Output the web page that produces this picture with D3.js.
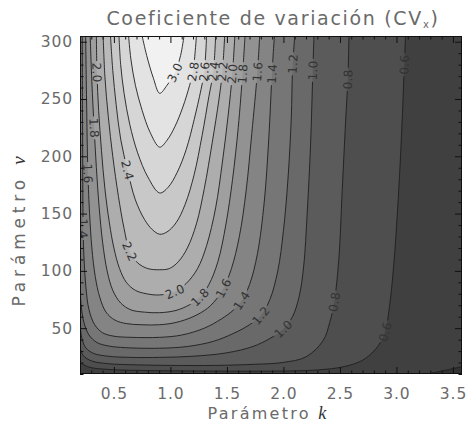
<!DOCTYPE html>
<html><head><meta charset="utf-8">
<script src="https://cdn.jsdelivr.net/npm/d3@7"></script>
<style>
html,body{margin:0;padding:0;background:#fff;}
svg{display:block;}
</style></head><body>
<svg id="chart" width="466" height="428"></svg>
<script>
// ---------------- data ----------------
const levels = [0.4,0.6,0.8,1.0,1.2,1.4,1.6,1.8,2.0,2.2,2.4,2.6,2.8,3.0];
// contour lines, points as [k, v]
const c04 = [[3.27,10],[3.36,11.8],[3.46,13.8],[3.58,16.5]];
const c06 = [[0.2,20],[0.28,16],[0.45,14],[0.8,13],[1.3,12.6],[1.9,12.5],[2.3,13.5],[2.54,16.5],[2.70,22],[2.80,30],[2.86,38],[2.90,47],[2.94,70],[2.98,110],[3.02,170],[3.05,230],[3.07,280],[3.08,305]];
const c08 = [[0.2,33],[0.23,26],[0.30,21.5],[0.45,19],[0.7,18],[1.0,17.5],[1.4,17.5],[1.75,18.5],[1.99,20],[2.20,25],[2.35,39],[2.41,55],[2.45,73],[2.49,110],[2.52,170],[2.55,230],[2.57,267],[2.58,305]];
const c10 = [[0.2,55],[0.215,42],[0.25,33],[0.32,28],[0.45,25.5],[0.65,24.5],[0.905,24.5],[1.2,25.5],[1.5,28.5],[1.73,34],[1.88,41],[1.997,49],[2.08,60],[2.14,78],[2.18,105],[2.21,150],[2.24,210],[2.26,274],[2.27,305]];
const c12 = [[0.2,88],[0.21,70],[0.235,55],[0.28,44],[0.35,37.5],[0.45,34.5],[0.60,33],[0.905,32.5],[1.15,34],[1.38,38.5],[1.56,45.5],[1.70,53],[1.80,61],[1.88,75],[1.95,100],[2.00,135],[2.04,180],[2.07,235],[2.08,274],[2.10,305]];
const c14 = [[0.22,305],[0.223,220],[0.228,137],[0.236,110],[0.252,86],[0.28,66],[0.33,53],[0.40,46],[0.50,43],[0.65,42],[0.905,42],[1.10,44],[1.30,50],[1.45,58],[1.56,66],[1.63,74],[1.70,88],[1.77,115],[1.83,160],[1.87,215],[1.90,274],[1.92,305]];
const c16 = [[0.25,305],[0.258,250],[0.27,185],[0.285,150],[0.305,120],[0.335,95],[0.375,77],[0.43,64],[0.51,57],[0.61,54],[0.74,53],[0.905,53],[1.05,55],[1.20,60],[1.33,67.5],[1.42,77],[1.47,85],[1.54,102],[1.61,130],[1.67,170],[1.72,220],[1.77,274],[1.79,305]];
const c18 = [[0.29,305],[0.305,265],[0.325,225],[0.345,190],[0.37,155],[0.40,125],[0.44,100],[0.49,83],[0.56,72],[0.65,66],[0.77,64],[0.905,63.5],[1.05,65.5],[1.17,70.5],[1.26,77],[1.34,88],[1.42,108],[1.49,140],[1.55,180],[1.60,225],[1.64,274],[1.66,305]];
const c20 = [[0.345,305],[0.35,273],[0.365,240],[0.39,205],[0.42,172],[0.46,142],[0.50,120],[0.55,102],[0.61,90],[0.69,83],[0.79,80],[0.905,79],[1.04,82],[1.14,89],[1.24,102],[1.32,122],[1.40,155],[1.46,195],[1.51,235],[1.55,274],[1.57,305]];
const c22 = [[0.405,305],[0.42,270],[0.45,235],[0.49,200],[0.54,165],[0.59,137],[0.64,117],[0.71,107],[0.80,102],[0.905,101],[0.99,102],[1.07,108],[1.15,120],[1.23,141],[1.30,172],[1.37,212],[1.43,250],[1.46,274],[1.48,305]];
const c24 = [[0.47,305],[0.49,275],[0.52,245],[0.56,215],[0.62,188],[0.69,162],[0.77,145],[0.84,136],[0.905,132],[0.97,134],[1.05,142],[1.13,158],[1.21,184],[1.28,218],[1.34,252],[1.38,274],[1.40,305]];
const c26 = [[0.545,305],[0.56,280],[0.59,255],[0.64,228],[0.71,203],[0.80,182],[0.905,168],[0.98,173],[1.06,186],[1.14,206],[1.21,232],[1.27,258],[1.30,274],[1.32,305]];
const c28 = [[0.63,305],[0.65,285],[0.69,262],[0.75,240],[0.82,221],[0.905,208],[0.97,214],[1.04,226],[1.11,243],[1.17,262],[1.20,274],[1.23,305]];
const c30 = [[0.75,305],[0.79,288],[0.85,268],[0.905,255],[0.97,262],[1.04,273],[1.09,288],[1.12,305]];

const kTicks = [0.5,1.0,1.5,2.0,2.5,3.0,3.5];
const vTicks = [50,100,150,200,250,300];
// approximate spots where each level is labelled: [level, k, v]
const labelSpots = [
  [2.0,0.35,273],[1.8,0.33,225],[1.6,0.27,185],[1.4,0.228,137],[2.4,0.62,188],[2.2,0.64,117],
  [3.0,1.04,273],[2.8,1.20,274],[2.6,1.30,274],[2.4,1.38,274],[2.2,1.46,274],[2.0,1.55,272],
  [1.8,1.64,272],[1.6,1.77,274],[1.4,1.90,272],[1.2,2.08,281],[1.0,2.26,275],[0.8,2.57,267],[0.6,3.07,280],
  [2.0,1.04,82],[1.8,1.26,77],[1.6,1.47,85],[1.4,1.63,74],[1.2,1.80,61],[1.0,2.0,49],[0.8,2.45,73],[0.6,2.90,47]
];
const peak = [0.9, 300];

// ---------------- layout ----------------
const W = 466, H = 428;
const m = {l:80, r:462, t:36, b:374};
const x = d3.scaleLinear().domain([0.2,3.58]).range([m.l,m.r]);
const y = d3.scaleLinear().domain([10,305]).range([m.b,m.t]);
const lines = [c04,c06,c08,c10,c12,c14,c16,c18,c20,c22,c24,c26,c28,c30];
const contours = levels.map((L,i)=>({level:L, pts:lines[i]}));
const gray = j => { const g = Math.round(j<0 ? 50 : 64 + j*13.6); return d3.rgb(g,g,g).formatHex(); };
const textColor = "#6a6a6a";
const font = "'DejaVu Sans', sans-serif";

const svg = d3.select("#chart");
const defs = svg.append("defs");
defs.append("clipPath").attr("id","plotclip").append("rect")
  .attr("x",m.l).attr("y",m.t).attr("width",m.r-m.l).attr("height",m.b-m.t);

const PW = m.r-m.l, PH = m.b-m.t, P = 2*(PW+PH);
function perimT([px,py]){
  const d=[Math.abs(py-m.t),Math.abs(px-m.r),Math.abs(py-m.b),Math.abs(px-m.l)];
  const e=d.indexOf(Math.min(...d));
  if(e===0) return px-m.l;
  if(e===1) return PW+(py-m.t);
  if(e===2) return PW+PH+(m.r-px);
  return 2*PW+PH+(m.b-py);
}
const corners=[[0,[m.l,m.t]],[PW,[m.r,m.t]],[PW+PH,[m.r,m.b]],[2*PW+PH,[m.l,m.b]]];
const mod = a => ((a%P)+P)%P;
function walk(t0,t1,dir){
  const span = dir>0 ? mod(t1-t0) : mod(t0-t1);
  return corners.map(([t,p])=>[dir>0?mod(t-t0):mod(t0-t),p])
    .filter(([d])=>d>1e-6 && d<span).sort((a,b)=>a[0]-b[0]).map(c=>c[1]);
}
const lineGen = d3.line().curve(d3.curveCatmullRom.alpha(0.5));
const peakPx=[x(peak[0]),y(peak[1])];

const plot = svg.append("g").attr("clip-path","url(#plotclip)");
plot.append("rect").attr("x",m.l).attr("y",m.t).attr("width",PW).attr("height",PH).attr("fill",gray(-1));

contours.forEach((c,i)=>{
  const px = c.pts.map(([k,v])=>[x(k),y(v)]);
  const tS = perimT(px[0]), tE = perimT(px[px.length-1]);
  let chosen=null;
  for(const dir of [1,-1]){
    const cs = walk(tE,tS,dir);
    const poly = px.concat(cs);
    if(d3.polygonContains(poly,peakPx)){chosen=cs;break;}
  }
  if(!chosen) chosen=walk(tE,tS,1);
  const d = lineGen(px) + chosen.map(p=>`L${p[0]},${p[1]}`).join("") + "Z";
  plot.append("path").attr("d",d).attr("fill",gray(i)).attr("stroke","none");
});

const lineG = plot.append("g");
const lineNodes = contours.map((c,i)=>
  lineG.append("path").attr("d",lineGen(c.pts.map(([k,v])=>[x(k),y(v)])))
    .attr("fill","none").attr("stroke","#1e1e1e").attr("stroke-width",0.9).node());

// labels
const fmt = d3.format(".1f");
const labelG = plot.append("g");
const maskRects = contours.map(()=>[]);
labelSpots.forEach(([L,k,v])=>{
  const i = levels.findIndex(l=>Math.abs(l-L)<1e-9);
  const node = lineNodes[i];
  const tot = node.getTotalLength();
  const tx=x(k), ty=y(v);
  let best=0, bd=1e9;
  for(let s=0;s<=tot;s+=0.5){const p=node.getPointAtLength(s);const dd=(p.x-tx)**2+(p.y-ty)**2;if(dd<bd){bd=dd;best=s;}}
  const p=node.getPointAtLength(best);
  const a=node.getPointAtLength(Math.max(0,best-4)), b=node.getPointAtLength(Math.min(tot,best+4));
  let ang=Math.atan2(b.y-a.y,b.x-a.x)*180/Math.PI;
  if(ang>90) ang-=180; if(ang<=-90) ang+=180;
  const t=labelG.append("text").attr("transform",`translate(${p.x},${p.y}) rotate(${ang})`)
    .attr("text-anchor","middle").attr("dy","0.36em")
    .attr("font-family",font).attr("font-size",12).attr("letter-spacing","0.3px").attr("fill","#333").text(fmt(L));
  const w=t.node().getComputedTextLength();
  maskRects[i].push({x:p.x,y:p.y,ang,w:w+3});
});
contours.forEach((c,i)=>{
  const mk=defs.append("mask").attr("id","mk"+i).attr("maskUnits","userSpaceOnUse")
    .attr("x",0).attr("y",0).attr("width",W).attr("height",H);
  mk.append("rect").attr("x",0).attr("y",0).attr("width",W).attr("height",H).attr("fill","#fff");
  maskRects[i].forEach(r=>{
    mk.append("rect").attr("x",-r.w/2).attr("y",-5).attr("width",r.w).attr("height",10)
      .attr("transform",`translate(${r.x},${r.y}) rotate(${r.ang})`).attr("fill","#000");
  });
  d3.select(lineNodes[i]).attr("mask",`url(#mk${i})`);
});

// ---------------- axes ----------------
const minorK = d3.range(2,36).map(d=>d/10).filter(d=>!kTicks.some(t=>Math.abs(t-d)<1e-9));
const minorV = d3.range(10,306,10).filter(d=>!vTicks.includes(d));
function styleAxis(g){g.select(".domain").remove();g.selectAll("line").attr("stroke","#111");
  g.selectAll("text").attr("font-family",font).attr("font-size",15.5).attr("fill",textColor).attr("letter-spacing","0.9px");}
svg.append("g").attr("transform",`translate(0,${m.b})`)
  .call(d3.axisBottom(x).tickValues(kTicks).tickSize(-7).tickPadding(14).tickFormat(fmt)).call(styleAxis);
svg.append("g").attr("transform",`translate(0,${m.b})`)
  .call(d3.axisBottom(x).tickValues(minorK).tickSize(-3.5).tickFormat("")).call(styleAxis);
svg.append("g").attr("transform",`translate(0,${m.t})`)
  .call(d3.axisTop(x).tickValues(kTicks).tickSize(-7).tickFormat("")).call(styleAxis);
svg.append("g").attr("transform",`translate(0,${m.t})`)
  .call(d3.axisTop(x).tickValues(minorK).tickSize(-3.5).tickFormat("")).call(styleAxis);
svg.append("g").attr("transform",`translate(${m.l},0)`)
  .call(d3.axisLeft(y).tickValues(vTicks).tickSize(-7).tickPadding(7).tickFormat(d3.format("d"))).call(styleAxis);
svg.append("g").attr("transform",`translate(${m.l},0)`)
  .call(d3.axisLeft(y).tickValues(minorV).tickSize(-3.5).tickFormat("")).call(styleAxis);
svg.append("g").attr("transform",`translate(${m.r},0)`)
  .call(d3.axisRight(y).tickValues(vTicks).tickSize(-7).tickFormat("")).call(styleAxis);
svg.append("g").attr("transform",`translate(${m.r},0)`)
  .call(d3.axisRight(y).tickValues(minorV).tickSize(-3.5).tickFormat("")).call(styleAxis);
svg.append("rect").attr("x",m.l+0.5).attr("y",m.t+0.5).attr("width",PW-1).attr("height",PH-1)
  .attr("fill","none").attr("stroke","#111").attr("stroke-width",1);

// ---------------- titles ----------------
function fitWidth(sel, target){
  const n = sel.text().length;
  const w = sel.node().getComputedTextLength();
  sel.attr("letter-spacing", ((target - w)/n).toFixed(2)+"px");
}
const title = svg.append("text").attr("x",(m.l+m.r)/2+2).attr("y",25).attr("text-anchor","middle")
  .attr("font-family",font).attr("font-size",19).attr("fill",textColor);
title.append("tspan").text("Coeficiente de variación (CV");
title.append("tspan").attr("font-size",10).attr("dy",3).attr("fill",textColor).text("x");
title.append("tspan").attr("dy",-3).text(")");
fitWidth(title, 333);

const xt = svg.append("text").attr("x",268).attr("y",419).attr("text-anchor","middle")
  .attr("font-family",font).attr("font-size",16).attr("fill",textColor);
xt.append("tspan").text("Parámetro ");
xt.append("tspan").attr("font-family","'Liberation Serif', serif").attr("font-style","italic").attr("font-size",18).attr("fill","#333").text("k");
fitWidth(xt, 121);

const yt = svg.append("text").attr("transform","translate(25,229) rotate(-90)").attr("text-anchor","middle")
  .attr("font-family",font).attr("font-size",17).attr("fill",textColor);
yt.append("tspan").text("Parámetro ");
yt.append("tspan").attr("font-family","'Liberation Serif', serif").attr("font-style","italic").attr("font-size",19).attr("fill","#333").text("ν");
fitWidth(yt, 155);
</script>
</body></html>
